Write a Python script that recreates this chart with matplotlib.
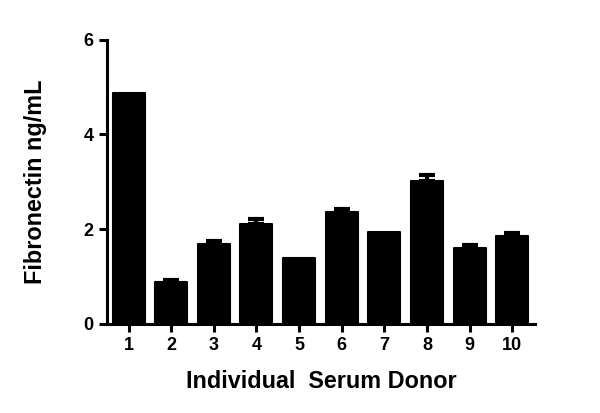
import numpy as np
import matplotlib
matplotlib.use('Agg')
import matplotlib.pyplot as plt

plt.rcParams['font.family'] = ['Liberation Sans', 'DejaVu Sans']
plt.rcParams['font.weight'] = 'bold'

donors = ['1', '2', '3', '4', '5', '6', '7', '8', '9', '10']
means = [4.88, 0.89, 1.69, 2.11, 1.40, 2.36, 1.95, 3.02, 1.61, 1.86]
sem = [0.0, 0.04, 0.06, 0.10, 0.0, 0.07, 0.0, 0.12, 0.06, 0.05]

fig = plt.figure(figsize=(6.0, 4.13), dpi=100)
ax = fig.add_axes([0.178, 0.2155, 0.714, 0.6885])

x = np.arange(1, len(donors) + 1)
ax.bar(x, means, width=0.75, color='black', edgecolor='black', linewidth=1.5,
       joinstyle='round', zorder=2)

# only bars with a visible error get a cap
has_err = np.array(sem) > 0
ax.errorbar(x[has_err], np.array(means)[has_err],
            yerr=[np.zeros(has_err.sum()), np.array(sem)[has_err]],
            fmt='none', ecolor='black', elinewidth=3, capsize=5.5, capthick=3, zorder=1)

ax.set_xlim(0.49, 10.54)
ax.set_ylim(0, 6)
ax.set_yticks([0, 2, 4, 6])
ax.set_xticks(x)
ax.set_xticklabels(donors)

for s in ['top', 'right']:
    ax.spines[s].set_visible(False)
for s in ['left', 'bottom']:
    ax.spines[s].set_linewidth(2.2)
ax.tick_params(width=2.2, length=6, labelsize=13, pad=3.6)

ax.set_xlabel('Individual  Serum Donor', fontsize=16.8, fontweight='bold', labelpad=11)
ax.set_ylabel('Fibronectin ng/mL', fontsize=16.8, fontweight='bold', labelpad=26)

plt.savefig('out.png', dpi=100)
